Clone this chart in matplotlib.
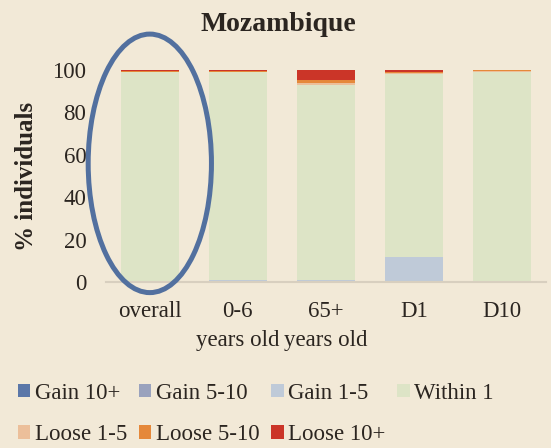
import matplotlib.pyplot as plt
from matplotlib.patches import Ellipse, Patch

categories = ["overall", "0-6\nyears old", "65+\nyears old", "D1", "D10"]
series_names = ["Gain 10+", "Gain 5-10", "Gain 1-5", "Within 1",
                "Loose 1-5", "Loose 5-10", "Loose 10+"]
gain_10 = [0.0, 0.0, 0.0, 0.0, 0.0]
gain_5_10 = [0.0, 0.3, 0.0, 0.0, 0.0]
gain_1_5 = [0.5, 0.8, 1.0, 11.8, 0.0]
within_1 = [98.4, 97.8, 92.0, 86.6, 99.3]
loose_1_5 = [0.3, 0.3, 1.0, 0.3, 0.4]
loose_5_10 = [0.3, 0.3, 1.5, 0.4, 0.3]
loose_10 = [0.5, 0.5, 4.5, 0.9, 0.0]
series = [gain_10, gain_5_10, gain_1_5, within_1, loose_1_5, loose_5_10, loose_10]

COLORS = ["#5b77a8", "#9aa2bd", "#bfcad8", "#dde4c6",
          "#ecbf9a", "#e5883a", "#cb3528"]
BG = "#f2e9d7"
TXT = "#2b2520"
FONTSIZE = 16.5
plt.rcParams["font.family"] = ["Liberation Serif", "DejaVu Serif"]

fig = plt.figure(figsize=(5.51, 4.48), dpi=100, facecolor=BG)
ax = fig.add_axes([0.192, 0.3705, 0.799, 0.473])
ax.set_facecolor(BG)

x = list(range(len(categories)))
bottom = [0.0] * len(categories)
for name, vals, col in zip(series_names, series, COLORS):
    ax.bar(x, vals, bottom=bottom, width=0.66, color=col, label=name, zorder=2)
    bottom = [b + v for b, v in zip(bottom, vals)]

ax.set_xlim(-0.5, len(categories) - 0.5)
ax.set_ylim(0, 100)
ax.set_yticks([0, 20, 40, 60, 80, 100])
ax.set_xticks(x)
ax.set_xticklabels(categories, fontsize=FONTSIZE, color=TXT, linespacing=1.45)
ax.tick_params(axis="y", labelsize=FONTSIZE, colors=TXT, length=0, pad=14)
ax.tick_params(axis="x", length=0, pad=14)
for s in ["top", "right", "left"]:
    ax.spines[s].set_visible(False)
ax.spines["bottom"].set_color("#d8cfbf")
ax.spines["bottom"].set_linewidth(1.5)
ax.set_ylabel("% individuals", fontsize=18, fontweight="bold", color=TXT, labelpad=10)

# highlight around the "overall" bar
ax.add_patch(Ellipse((0, 56), 1.4, 122, fill=False, edgecolor="#52709f",
                     linewidth=3.6, clip_on=False, zorder=5))

fig.text(0.505, 0.945, "Mozambique", ha="center", va="center",
         fontsize=20, fontweight="bold", color=TXT)

handles = [Patch(facecolor=c, edgecolor="none", label=n) for n, c in zip(series_names, COLORS)]
order = [0, 4, 1, 5, 2, 6, 3]
fig.legend([handles[i] for i in order], [series_names[i] for i in order],
           ncol=4, loc="lower left", bbox_to_anchor=(-0.005, -0.04), frameon=False,
           fontsize=FONTSIZE, handlelength=0.55, handleheight=0.55, handletextpad=0.2,
           columnspacing=0.5, labelspacing=0.9, labelcolor=TXT)

plt.savefig("out.png", dpi=100, facecolor=BG)
